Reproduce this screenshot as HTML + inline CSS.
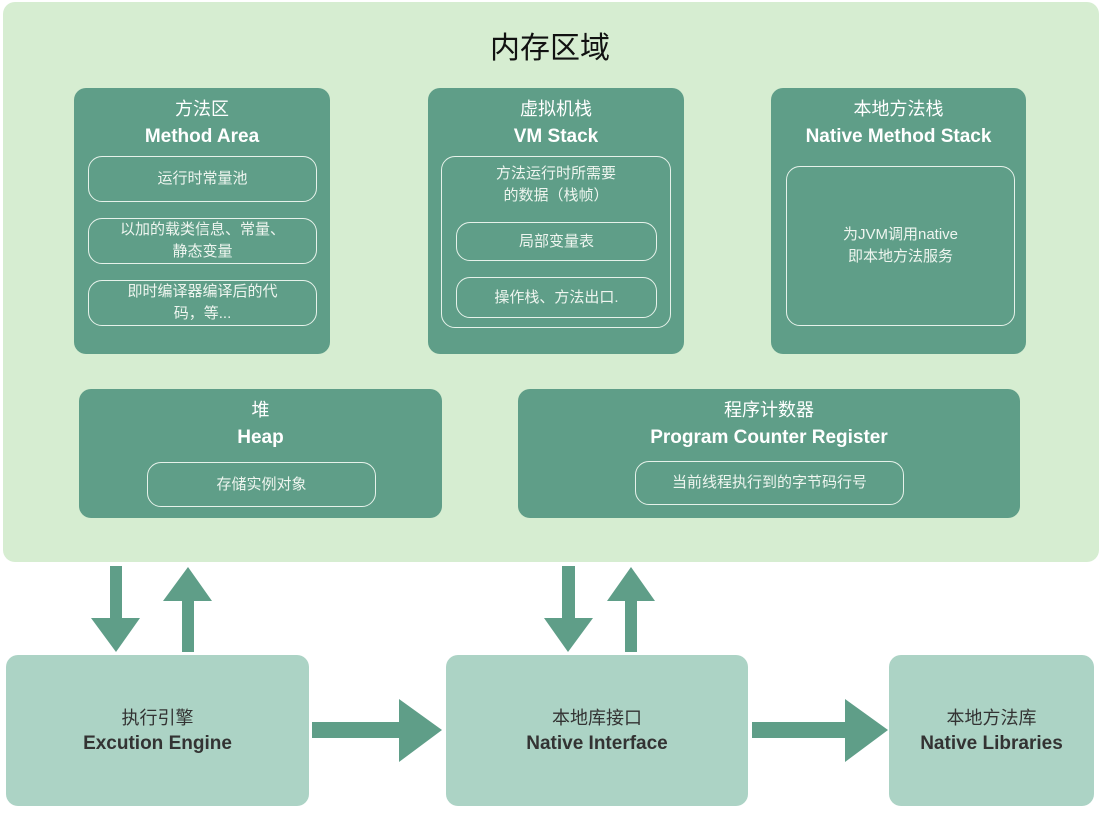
<!DOCTYPE html>
<html><head><meta charset="utf-8"><style>
body{margin:0;width:1106px;height:814px;background:#fff;position:relative;overflow:hidden;font-family:"Liberation Sans","Noto Sans CJK SC",sans-serif}
div{position:absolute;box-sizing:border-box}
.outer{left:3px;top:2px;width:1096px;height:560px;background:#d6edd1;border-radius:12px}
.dk{background:#5f9e88;border-radius:12px;color:#fff;text-align:center}
.dk .t1{position:relative;font-size:18px;margin-top:9px;line-height:24px}
.dk .t2{position:relative;font-size:19px;font-weight:bold;line-height:32px}
.in{border:1.5px solid #e6f2ea;border-radius:14px;color:#eef5ef;font-size:15px;display:flex;align-items:center;justify-content:center;text-align:center;line-height:22px}
.lt{background:#acd3c5;border-radius:12px;text-align:center;color:#333;display:flex;flex-direction:column;justify-content:center}
.lt .a{position:relative;font-size:18px;line-height:26px}
.lt .b{position:relative;font-size:19px;font-weight:bold;line-height:26px}
</style></head><body>
<div class="outer"></div>
<div style="left:0;top:23px;width:1100px;text-align:center;font-size:30px;color:#111">内存区域</div>

<div class="dk" style="left:74px;top:88px;width:256px;height:266px"><div class="t1">方法区</div><div class="t2">Method Area</div></div>
<div class="in" style="left:88px;top:156px;width:229px;height:46px">运行时常量池</div>
<div class="in" style="left:88px;top:218px;width:229px;height:46px">以加的载类信息、常量、<br>静态变量</div>
<div class="in" style="left:88px;top:280px;width:229px;height:46px">即时编译器编译后的代<br>码，等...</div>

<div class="dk" style="left:428px;top:88px;width:256px;height:266px"><div class="t1">虚拟机栈</div><div class="t2">VM Stack</div></div>
<div class="in" style="left:441px;top:156px;width:230px;height:172px;align-items:flex-start;padding-top:6px">方法运行时所需要<br>的数据（栈帧）</div>
<div class="in" style="left:456px;top:222px;width:201px;height:39px">局部变量表</div>
<div class="in" style="left:456px;top:277px;width:201px;height:41px">操作栈、方法出口.</div>

<div class="dk" style="left:771px;top:88px;width:255px;height:266px"><div class="t1">本地方法栈</div><div class="t2">Native Method Stack</div></div>
<div class="in" style="left:786px;top:166px;width:229px;height:160px">为JVM调用native<br>即本地方法服务</div>

<div class="dk" style="left:79px;top:389px;width:363px;height:129px"><div class="t1">堆</div><div class="t2">Heap</div></div>
<div class="in" style="left:147px;top:462px;width:229px;height:45px">存储实例对象</div>

<div class="dk" style="left:518px;top:389px;width:502px;height:129px"><div class="t1">程序计数器</div><div class="t2">Program Counter Register</div></div>
<div class="in" style="left:635px;top:461px;width:269px;height:44px">当前线程执行到的字节码行号</div>

<div class="lt" style="left:6px;top:655px;width:303px;height:151px"><div class="a">执行引擎</div><div class="b">Excution Engine</div></div>
<div class="lt" style="left:446px;top:655px;width:302px;height:151px"><div class="a">本地库接口</div><div class="b">Native Interface</div></div>
<div class="lt" style="left:889px;top:655px;width:205px;height:151px"><div class="a">本地方法库</div><div class="b">Native Libraries</div></div>

<svg width="1106" height="814" style="position:absolute;left:0;top:0">
<g fill="#5f9e88">
<polygon points="110,566 122,566 122,618 140,618 116,652 91,618 110,618"/>
<polygon points="182,652 194,652 194,601 212,601 188,567 163,601 182,601"/>
<polygon points="562,566 575,566 575,618 593,618 568,652 544,618 562,618"/>
<polygon points="625,652 637,652 637,601 655,601 631,567 607,601 625,601"/>
<polygon points="312,722 399,722 399,699 442,730 399,762 399,738 312,738"/>
<polygon points="752,722 845,722 845,699 888,730 845,762 845,738 752,738"/>
</g></svg>
</body></html>
